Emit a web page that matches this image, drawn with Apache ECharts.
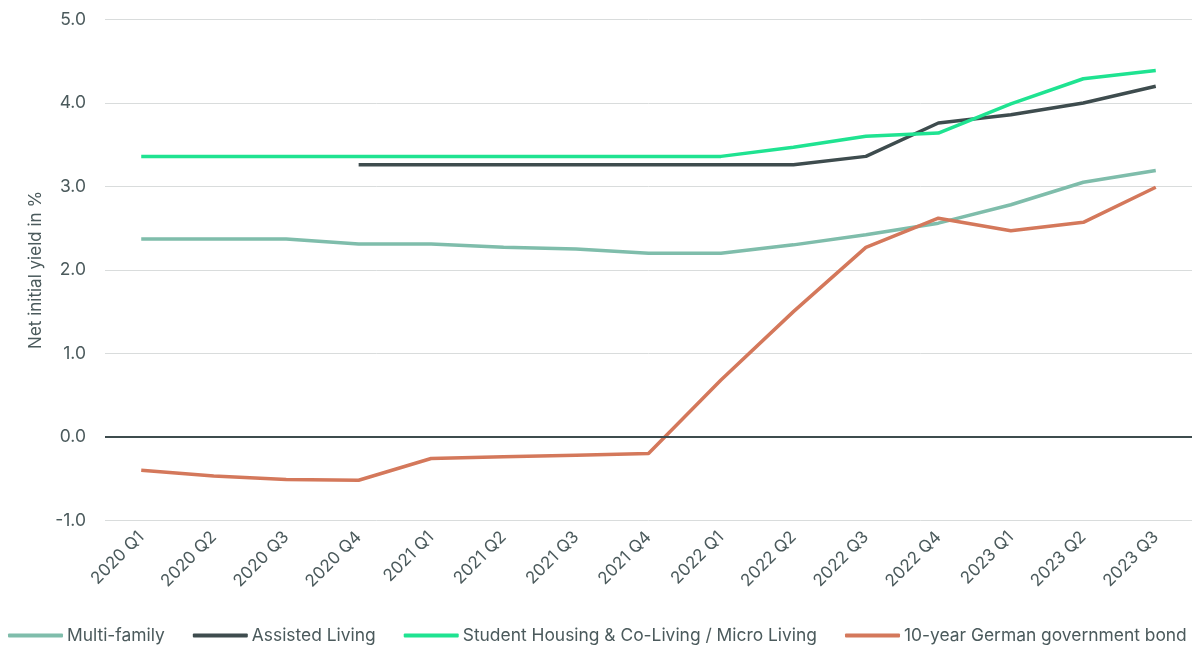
<!DOCTYPE html>
<html>
<head>
<meta charset="utf-8">
<title>Net initial yields by segment</title>
<script src="https://cdn.jsdelivr.net/npm/echarts@6/dist/echarts.min.js"></script>
<style>
  html, body { margin: 0; padding: 0; background: #ffffff; }
  #chart { width: 1199px; height: 646px; }
</style>
</head>
<body>
<div id="chart"></div>
<script>
// Quarterly net initial yields (%) and the 10-year Bund yield
const quarters = ['2020 Q1', '2020 Q2', '2020 Q3', '2020 Q4', '2021 Q1', '2021 Q2', '2021 Q3', '2021 Q4',
  '2022 Q1', '2022 Q2', '2022 Q3', '2022 Q4', '2023 Q1', '2023 Q2', '2023 Q3'];

const multiFamily = [2.37, 2.37, 2.37, 2.31, 2.31, 2.27, 2.25, 2.20, 2.20, 2.30, 2.42, 2.56, 2.78, 3.05, 3.19];
const assistedLiving = [null, null, null, 3.26, 3.26, 3.26, 3.26, 3.26, 3.26, 3.26, 3.36, 3.76, 3.86, 4.00, 4.20];
const studentHousing = [3.36, 3.36, 3.36, 3.36, 3.36, 3.36, 3.36, 3.36, 3.36, 3.47, 3.60, 3.64, 3.99, 4.29, 4.39];
const bund10y = [-0.40, -0.47, -0.51, -0.52, -0.26, -0.24, -0.22, -0.20, 0.68, 1.50, 2.27, 2.62, 2.47, 2.57, 2.99];

const yTicks = { min: -1, max: 5, interval: 1 };

const textColor = '#4b5a5c';
const fontFamily = 'Inter, "Noto Sans", sans-serif';

function lineSeries(name, data, color) {
  return {
    name: name,
    type: 'line',
    data: data,
    symbol: 'none',
    smooth: false,
    connectNulls: false,
    lineStyle: { color: color, width: 3.5 },
    itemStyle: { color: color },
    emphasis: { disabled: true }
  };
}

const series = [
  lineSeries('Multi-family', multiFamily, '#7fbdab'),
  lineSeries('Assisted Living', assistedLiving, '#3e4c4e'),
  lineSeries('Student Housing & Co-Living / Micro Living', studentHousing, '#1fe391'),
  lineSeries('10-year German government bond', bund10y, '#d4785b')
];

// zero reference line
series[0].markLine = {
  silent: true,
  symbol: 'none',
  label: { show: false },
  lineStyle: { color: '#3e4c4e', width: 2, type: 'solid' },
  data: [{ yAxis: 0 }]
};
series[0].z = 1;

const chart = echarts.init(document.getElementById('chart'), null, { renderer: 'canvas' });
chart.setOption({
  animation: false,
  backgroundColor: '#ffffff',
  textStyle: { fontFamily: fontFamily, color: textColor },
  grid: { left: 105, right: 7, top: 19.5, bottom: 125.7, containLabel: false },
  legend: {
    top: 627,
    left: 8,
    right: 0,
    padding: 0,
    itemWidth: 55,
    itemHeight: 4,
    itemGap: 28,
    icon: 'roundRect',
    textStyle: { fontFamily: fontFamily, fontSize: 17.4, color: textColor, padding: [0, 0, 0, -1] },
    data: series.map(s => s.name)
  },
  xAxis: {
    type: 'category',
    data: quarters,
    boundaryGap: true,
    axisLine: { show: false, onZero: false },
    axisTick: { show: false },
    splitLine: { show: false },
    axisLabel: {
      rotate: 45,
      interval: 0,
      margin: 14,
      fontSize: 17,
      color: textColor,
      fontFamily: fontFamily
    }
  },
  yAxis: {
    type: 'value',
    min: yTicks.min,
    max: yTicks.max,
    interval: yTicks.interval,
    name: 'Net initial yield in %',
    nameLocation: 'middle',
    nameGap: 53,
    nameTextStyle: { fontSize: 17, color: textColor, fontFamily: fontFamily },
    axisLine: { show: false },
    axisTick: { show: false },
    splitLine: { lineStyle: { color: '#d9dcdc', width: 1 } },
    axisLabel: {
      margin: 19,
      fontSize: 17.5,
      color: textColor,
      fontFamily: fontFamily,
      formatter: v => v.toFixed(1)
    }
  },
  series: series
});
</script>
</body>
</html>
